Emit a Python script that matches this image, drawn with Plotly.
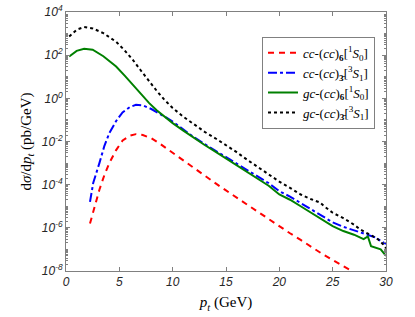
import plotly.graph_objects as go

# cc-(cc)_6 [1S0]  (red dashed)
pt_red = [2.25, 2.7, 3.13, 3.6, 4.06, 4.7, 5.31, 6.0, 6.56, 7.2, 8.0, 8.75, 9.5, 10, 11, 12, 13, 14, 15, 16, 17, 18, 19, 20, 21, 22, 23, 24, 25, 26, 27, 28]
y_red = [1.6e-06, 1.0e-05, 5.8e-05, 2.8e-04, 1.0e-03, 4.0e-03, 1.12e-02, 1.86e-02, 2.19e-02, 2.0e-02, 1.41e-02, 8.3e-03, 4.5e-03, 2.9e-03, 1.26e-03, 5.6e-04, 2.5e-04, 1.17e-04, 5.4e-05, 2.5e-05, 1.17e-05, 5.4e-06, 2.5e-06, 1.15e-06, 5.6e-07, 2.75e-07, 1.26e-07, 6.3e-08, 3.2e-08, 1.66e-08, 8.9e-09, 4.5e-09]

# cc-(cc)_3bar [3S1]  (blue dash-dot)
pt_blue = [2.25, 2.55, 3.13, 3.6, 4.06, 4.7, 5.3, 6.0, 6.56, 7.2, 8.0, 8.75, 9.38, 10, 11, 12, 13, 14, 15, 16, 17, 18, 19, 20, 21, 22, 23, 24, 25, 26, 27, 28, 29, 29.5, 30]
y_blue = [1.6e-05, 1.2e-04, 1.0e-03, 6.3e-03, 2.45e-02, 8.9e-02, 0.224, 0.40, 0.50, 0.47, 0.32, 0.20, 0.13, 8.3e-02, 3.5e-02, 1.58e-02, 7.6e-03, 3.8e-03, 1.9e-03, 9.3e-04, 4.7e-04, 2.3e-04, 1.17e-04, 5.0e-05, 2.8e-05, 1.41e-05, 7.1e-06, 3.5e-06, 1.8e-06, 1.12e-06, 7.6e-07, 5.0e-07, 3.6e-07, 2.5e-07, 1.8e-07]

# gc-(cc)_6 [1S0]  (green solid)
pt_green = [0.3, 1.0, 1.7, 2.5, 3.5, 4.7, 5.5, 6.25, 7.0, 7.8, 8.5, 9.06, 10, 11, 12, 13, 14, 15, 16, 17, 18, 19, 20, 21, 22, 23, 24, 25, 26, 27, 27.9, 28.3, 28.6, 29.0, 29.5, 30]
y_green = [87, 158, 200, 178, 89, 30, 11.2, 4.2, 1.58, 0.60, 0.28, 0.166, 7.1e-02, 3.2e-02, 1.45e-02, 6.9e-03, 3.4e-03, 1.66e-03, 7.9e-04, 4.0e-04, 1.9e-04, 8.9e-05, 3.5e-05, 2.0e-05, 1.0e-05, 5.0e-06, 2.5e-06, 1.2e-06, 7.1e-07, 4.8e-07, 3.0e-07, 4.0e-07, 1.4e-07, 1.2e-07, 1.0e-07, 5.0e-08]

# gc-(cc)_3bar [3S1]  (black dotted)
pt_black = [0.3, 1.0, 1.7, 2.5, 3.5, 4.7, 5.5, 6.25, 7.0, 7.8, 8.5, 9.2, 10, 11, 12, 13, 14, 15, 16, 17, 18, 19, 20, 21, 22, 23, 23.8, 24.2, 25, 26, 27, 27.6, 28.3, 28.8, 29.3, 29.7, 30]
y_black = [741, 1510, 2000, 1740, 1050, 417, 166, 62, 20, 6.0, 2.24, 0.89, 0.355, 0.141, 6.0e-02, 2.8e-02, 1.41e-02, 6.8e-03, 3.2e-03, 1.41e-03, 6.3e-04, 2.95e-04, 1.38e-04, 7.1e-05, 3.5e-05, 2.1e-05, 1.5e-05, 1.0e-05, 5.0e-06, 2.8e-06, 1.41e-06, 8.3e-07, 5.6e-07, 4.0e-07, 2.8e-07, 1.8e-07, 1.12e-07]

labels = [
    "<i>cc</i>-(<i>cc</i>)<sub><b>6</b></sub>[<sup>1</sup><i>S</i><sub>0</sub>]",
    "<i>cc</i>-(<i>cc</i>)<sub><b>3\u0304</b></sub>[<sup>3</sup><i>S</i><sub>1</sub>]",
    "<i>gc</i>-(<i>cc</i>)<sub><b>6</b></sub>[<sup>1</sup><i>S</i><sub>0</sub>]",
    "<i>gc</i>-(<i>cc</i>)<sub><b>3\u0304</b></sub>[<sup>3</sup><i>S</i><sub>1</sub>]",
]

x_ticks = [0, 5, 10, 15, 20, 25, 30]
x_ticktext = ["<i>%d</i>" % v for v in x_ticks]
y_exps = [-8, -6, -4, -2, 0, 2, 4]
y_ticks = [10.0 ** e for e in y_exps]
y_ticktext = ["<i>10<sup>%d</sup></i>" % e for e in y_exps]
y_minor = [m * 10.0 ** e for e in range(-8, 4) for m in range(1, 10) if not (m == 1 and e % 2 == 0)]

tickfont = dict(family="Liberation Sans", size=12, color="#262626")
axcol = "#808080"

fig = go.Figure()
fig.add_trace(go.Scatter(x=pt_red, y=y_red, mode="lines", name=labels[0],
                         line=dict(color="#ff0000", width=2, dash="6px,5px")))
fig.add_trace(go.Scatter(x=pt_blue, y=y_blue, mode="lines", name=labels[1],
                         line=dict(color="#0000ff", width=2, dash="dashdot")))
fig.add_trace(go.Scatter(x=pt_green, y=y_green, mode="lines", name=labels[2],
                         line=dict(color="#008000", width=2)))
fig.add_trace(go.Scatter(x=pt_black, y=y_black, mode="lines", name=labels[3],
                         line=dict(color="#000000", width=2, dash="dot")))

fig.update_layout(
    width=415, height=317,
    margin=dict(l=66, r=29, t=12, b=46),
    paper_bgcolor="white", plot_bgcolor="white",
    showlegend=True,
    legend=dict(x=0.6125, y=0.904, xanchor="left", yanchor="top",
                bgcolor="white", bordercolor=axcol, borderwidth=1,
                font=dict(family="Liberation Serif", size=13, color="#000000"),
                itemwidth=30, tracegroupgap=0),
    xaxis=dict(range=[0, 30], tickmode="array", tickvals=x_ticks, ticktext=x_ticktext,
               ticks="inside", ticklen=4,
               tickcolor=axcol, showline=True, linecolor=axcol, linewidth=1,
               mirror="allticks", showgrid=False, zeroline=False,
               tickfont=tickfont, automargin=False,
               title=dict(text="<i>p</i><sub><i>t</i></sub> (GeV)", standoff=8,
                          font=dict(family="Liberation Serif", size=15, color="#000000"))),
    yaxis=dict(type="log", range=[-8, 4], tickmode="array", tickvals=y_ticks, ticktext=y_ticktext,
               ticks="inside", ticklen=4, tickcolor=axcol,
               showline=True, linecolor=axcol, linewidth=1, mirror="allticks",
               showgrid=False, zeroline=False, tickfont=tickfont, automargin=False,
               minor=dict(tickmode="array", tickvals=y_minor, ticks="inside", ticklen=2,
                          tickcolor=axcol, showgrid=False),
               title=dict(text="d<i>σ</i>/d<i>p</i><sub><i>t</i></sub> (pb/GeV)", standoff=6,
                          font=dict(family="Liberation Serif", size=15, color="#000000"))),
)

fig.write_html("out.html", config={"displayModeBar": False},
               post_script="document.body.style.margin='0';document.body.style.padding='0';")
